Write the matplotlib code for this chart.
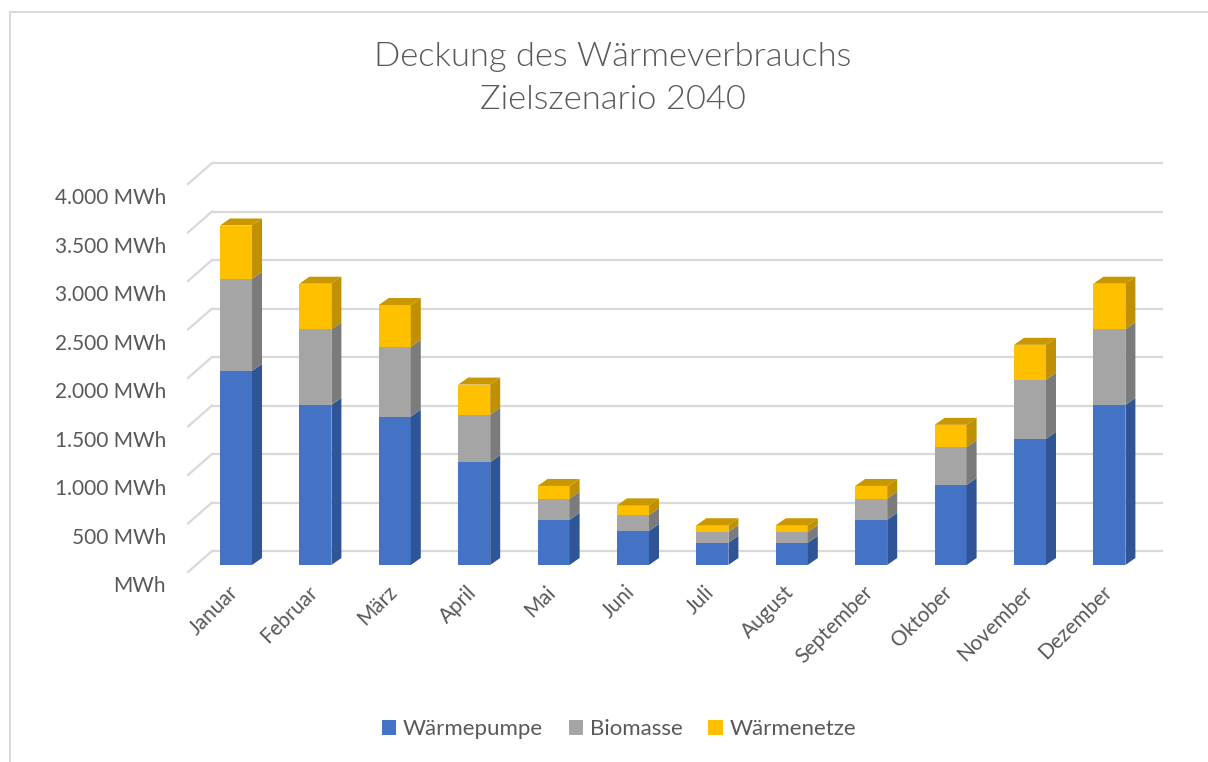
import numpy as np
import matplotlib.pyplot as plt
from matplotlib.patches import Patch
from matplotlib.lines import Line2D

plt.rcParams['font.family'] = ['Lato', 'DejaVu Sans']

months = ["Januar", "Februar", "März", "April", "Mai", "Juni", "Juli",
          "August", "September", "Oktober", "November", "Dezember"]
waermepumpe = [2000, 1650, 1530, 1060, 465, 350, 230, 230, 465, 825, 1300, 1650]
biomasse = [950, 780, 720, 490, 220, 165, 110, 110, 220, 390, 610, 780]
waermenetze = [550, 470, 430, 310, 130, 100, 70, 70, 130, 230, 360, 470]
series_names = ["Wärmepumpe", "Biomasse", "Wärmenetze"]
yticks = [0, 500, 1000, 1500, 2000, 2500, 3000, 3500, 4000]

front_cols = ["#4472C4", "#A5A5A5", "#FFC000"]
side_cols = ["#2F5597", "#7B7B7B", "#BF9000"]
top_col = "#C99700"
txt_col = "#595959"
grid_col = "#D9D9D9"

W, H = 1208, 762
# pixel scale of the plot: px per category, px per MWh
sx, sy = 79.4, 0.097
x0_px, y0_px = 236, 565

fig = plt.figure(figsize=(W / 100, H / 100), dpi=100)
ax = fig.add_axes([0, 0, 1, 1])
ax.set_xlim(-x0_px / sx, (W - x0_px) / sx)
ax.set_ylim((y0_px - H) / sy, y0_px / sy)
ax.axis('off')

# 3d offsets
bw = 32 / sx          # bar front width
dx, dy = 10 / sx, 7 / sy
wall_front_x, wall_back_x = (188 - x0_px) / sx, (212 - x0_px) / sx
wall_front_dy, wall_back_dy = -7 / sy, 14 / sy
wall_right_x = (1163 - x0_px) / sx

# back wall gridlines + side wall diagonals
for v in yticks:
    ax.plot([wall_back_x, wall_right_x], [v + wall_back_dy] * 2,
            color=grid_col, lw=1.6, zorder=1, solid_capstyle='butt')
    ax.plot([wall_front_x, wall_back_x], [v + wall_front_dy, v + wall_back_dy],
            color=grid_col, lw=1.6, zorder=1)
    lab = "MWh" if v == 0 else f"{v:,} MWh".replace(",", ".")
    ax.text((166 - x0_px) / sx, v + wall_front_dy - 14 / sy, lab, ha='right',
            va='center', fontsize=15, color=txt_col)

# stacked 3d columns
x = np.arange(len(months))
stack = [waermepumpe, biomasse, waermenetze]
bottom = np.zeros(len(months))
for k, vals in enumerate(stack):
    vals = np.array(vals, dtype=float)
    ax.bar(x, vals, bottom=bottom, width=bw, color=front_cols[k],
           linewidth=0, zorder=3)
    for i in range(len(months)):
        r = x[i] + bw / 2
        y_lo, y_hi = bottom[i], bottom[i] + vals[i]
        ax.fill([r, r + dx, r + dx, r], [y_lo, y_lo + dy, y_hi + dy, y_hi],
                color=side_cols[k], lw=0, zorder=3)
    bottom = bottom + vals

for i in range(len(months)):
    l, r, t = x[i] - bw / 2, x[i] + bw / 2, bottom[i]
    ax.fill([l, l + dx, r + dx, r], [t, t + dy, t + dy, t],
            color=top_col, lw=0, zorder=3)

# month labels
for i, m in enumerate(months):
    ax.text(x[i] - 1 / sx, -24 / sy, m, rotation=45, rotation_mode='anchor',
            ha='right', va='center', fontsize=15, color=txt_col)

fig.text(613 / W, 1 - 57 / H, "Deckung des Wärmeverbrauchs", ha='center',
         va='center', fontsize=24.8, color=txt_col, fontweight=300)
fig.text(613 / W, 1 - 100 / H, "Zielszenario 2040", ha='center',
         va='center', fontsize=24.8, color=txt_col, fontweight=300)

handles = [Patch(facecolor=c, edgecolor='none') for c in front_cols]
fig.legend(handles, series_names, loc='center', ncol=3, frameon=False,
           bbox_to_anchor=(619 / W, 1 - 729 / H), fontsize=16,
           labelcolor=txt_col, handlelength=0.65, handleheight=0.65,
           handletextpad=0.3, columnspacing=1.15)

# chart area border (top and left edges)
fig.add_artist(Line2D([10 / W, 1], [1 - 12 / H] * 2, color=grid_col, lw=1.5))
fig.add_artist(Line2D([10 / W] * 2, [0, 1 - 12 / H], color=grid_col, lw=1.5))

fig.savefig("out.png", dpi=100)
